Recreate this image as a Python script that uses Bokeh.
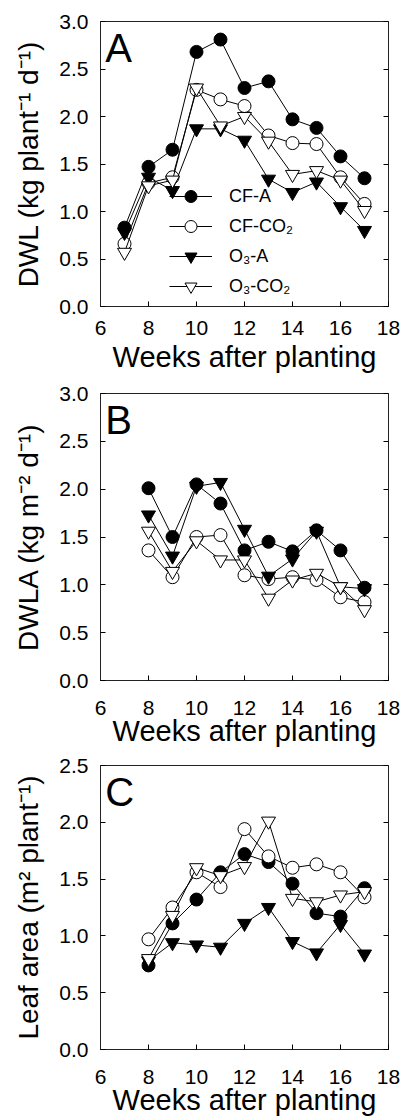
from bokeh.plotting import figure
from bokeh.layouts import column
from bokeh.models import Range1d, FixedTicker, PrintfTickFormatter, LinearAxis, Label, Legend, LegendItem
from bokeh.embed import file_html
from bokeh.resources import INLINE

# ---------------- data ----------------
series_names = ["CF-A", "CF-CO\u2082", "O\u2083-A", "O\u2083-CO\u2082"]

weeks_a = [7, 8, 9, 10, 11, 12, 13, 14, 15, 16, 17]
dwl_cf_a = [0.83, 1.47, 1.65, 2.68, 2.81, 2.30, 2.37, 1.97, 1.88, 1.58, 1.35]
dwl_cf_co2 = [0.66, 1.30, 1.36, 2.28, 2.18, 2.11, 1.80, 1.72, 1.71, 1.36, 1.08]
dwl_o3_a = [0.78, 1.36, 1.22, 1.87, 1.87, 1.75, 1.34, 1.20, 1.31, 1.05, 0.80]
dwl_o3_co2 = [0.57, 1.27, 1.33, 2.30, 1.90, 2.00, 1.74, 1.39, 1.43, 1.33, 1.01]

weeks_bc = [8, 9, 10, 11, 12, 13, 14, 15, 16, 17]
dwla_cf_a = [2.01, 1.50, 2.05, 1.85, 1.36, 1.45, 1.35, 1.57, 1.36, 0.97]
dwla_cf_co2 = [1.36, 1.08, 1.50, 1.52, 1.10, 1.06, 1.08, 1.05, 0.87, 0.82]
dwla_o3_a = [1.73, 1.30, 2.03, 2.07, 1.58, 1.09, 1.27, 1.56, 0.98, 0.96]
dwla_o3_co2 = [1.56, 1.14, 1.46, 1.26, 1.26, 0.86, 1.05, 1.12, 0.98, 0.74]

la_cf_a = [0.74, 1.11, 1.32, 1.56, 1.72, 1.65, 1.46, 1.20, 1.17, 1.42]
la_cf_co2 = [0.97, 1.25, 1.56, 1.43, 1.94, 1.70, 1.60, 1.63, 1.56, 1.34]
la_o3_a = [0.78, 0.94, 0.92, 0.90, 1.11, 1.25, 0.95, 0.85, 1.10, 0.84]
la_o3_co2 = [0.80, 1.18, 1.60, 1.53, 1.61, 2.01, 1.33, 1.30, 1.36, 1.39]

x_ticks = [6, 8, 10, 12, 14, 16, 18]
y_ticks_ab = [0.0, 0.5, 1.0, 1.5, 2.0, 2.5, 3.0]
y_ticks_c = [0.0, 0.5, 1.0, 1.5, 2.0, 2.5]

xlabel = "Weeks after planting"
ylabel_a = "DWL (kg plant\u207b\u00b9 d\u207b\u00b9)"
ylabel_b = "DWLA (kg m\u207b\u00b2 d\u207b\u00b9)"
ylabel_c = "Leaf area (m\u00b2 plant\u207b\u00b9)"

# ---------------- styling ----------------
FONT = "Liberation Sans"
styles = [("circle", "black", 13), ("circle", "white", 13),
          ("inverted_triangle", "black", 14), ("inverted_triangle", "white", 14)]


def panel(letter, ylabel, weeks, data, ymax, yticks, height, btop, bbottom,
          xstand, xlstand, letter_y, legend=False):
    p = figure(width=404, height=height, x_range=Range1d(6, 18), y_range=Range1d(0, ymax),
               output_backend="svg", toolbar_location=None,
               min_border_left=100, min_border_right=16,
               min_border_top=btop, min_border_bottom=bbottom)
    p.xgrid.visible = False
    p.ygrid.visible = False
    p.outline_line_color = "#222222"
    p.outline_line_width = 1
    p.background_fill_color = "white"
    p.border_fill_color = "white"

    xa = p.xaxis[0]
    xa.ticker = FixedTicker(ticks=x_ticks)
    xa.axis_label = xlabel
    xa.axis_label_text_font = FONT
    xa.axis_label_text_font_size = "29px"
    xa.axis_label_text_font_style = "normal"
    xa.axis_label_text_color = "black"
    xa.axis_label_standoff = xlstand
    xa.major_label_text_font = FONT
    xa.major_label_text_font_size = "21px"
    xa.major_label_text_color = "black"
    xa.major_label_standoff = xstand
    xa.major_tick_in = 5
    xa.major_tick_out = 0
    xa.major_tick_line_color = "black"
    xa.minor_tick_line_color = None
    xa.axis_line_color = "#222222"

    ya = p.yaxis[0]
    ya.ticker = FixedTicker(ticks=yticks)
    ya.formatter = PrintfTickFormatter(format="%.1f")
    ya.axis_label = ylabel
    ya.axis_label_text_font = FONT
    ya.axis_label_text_font_size = "28px"
    ya.axis_label_text_font_style = "normal"
    ya.axis_label_text_color = "black"
    ya.axis_label_standoff = 12
    ya.major_label_text_font = FONT
    ya.major_label_text_font_size = "21px"
    ya.major_label_text_color = "black"
    ya.major_label_standoff = 12
    ya.major_tick_in = 5
    ya.major_tick_out = 0
    ya.major_tick_line_color = "black"
    ya.minor_tick_line_color = None
    ya.axis_line_color = "#222222"

    ra = LinearAxis(ticker=FixedTicker(ticks=yticks),
                    major_label_overrides={t: "" for t in yticks},
                    major_tick_in=5, major_tick_out=0, major_label_standoff=0,
                    major_tick_line_color="black",
                    minor_tick_line_color=None, axis_line_color=None)
    p.add_layout(ra, "right")

    items = []
    for name, vals, (marker, fill, size) in zip(series_names, data, styles):
        rl = p.line(weeks, vals, line_color="black", line_width=1)
        rs = p.scatter(weeks, vals, marker=marker, size=size, fill_color=fill,
                       line_color="black", line_width=1)
        items.append(LegendItem(label=name, renderers=[rl, rs]))

    if legend:
        lg = Legend(items=items, location=(69, 5), orientation="vertical",
                    glyph_width=43, glyph_height=30, label_height=30, spacing=-6,
                    label_standoff=17, padding=0, margin=0,
                    border_line_color=None, background_fill_alpha=0,
                    label_text_font=FONT, label_text_font_size="18px",
                    label_text_color="black")
        p.add_layout(lg)

    p.add_layout(Label(x=6.2, y=letter_y, text=letter, text_font=FONT,
                       text_font_size="40px", text_baseline="alphabetic",
                       text_align="left", text_color="black"))
    return p


pa = panel("A", ylabel_a, weeks_a, [dwl_cf_a, dwl_cf_co2, dwl_o3_a, dwl_o3_co2],
           3.0, y_ticks_ab, 376, 21, 70, 14, 3, 2.72, legend=True)
pb = panel("B", ylabel_b, weeks_bc, [dwla_cf_a, dwla_cf_co2, dwla_o3_a, dwla_o3_co2],
           3.0, y_ticks_ab, 374, 17, 70, 20, -3, 2.72)
pc = panel("C", ylabel_c, weeks_bc, [la_cf_a, la_cf_co2, la_o3_a, la_o3_co2],
           2.5, y_ticks_c, 368, 15, 68, 20, -3, 2.27)

layout = column(pa, pb, pc, spacing=0)
open("out.html", "w").write(file_html(layout, INLINE))
